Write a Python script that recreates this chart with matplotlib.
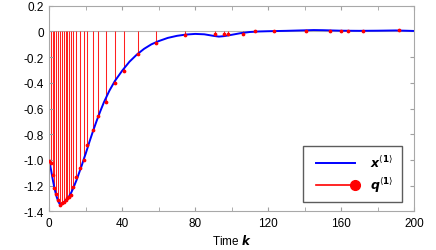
import matplotlib
matplotlib.use('Agg')
import matplotlib.pyplot as plt
import numpy as np
from matplotlib.lines import Line2D
from matplotlib.legend_handler import HandlerBase

plt.rcParams['font.family'] = ['Liberation Sans', 'DejaVu Sans']
plt.rcParams['mathtext.fontset'] = 'dejavusans'

# data: state trajectory x^(1)
k_curve = [0, 1, 2, 3, 4, 5, 6, 7, 8, 9, 10, 11, 12, 13, 14, 15, 16, 17, 18,
           19, 20, 21, 22, 24, 26, 28, 30, 33, 36, 40, 44, 48, 52, 56, 60, 65,
           70, 75, 80, 85, 90, 93, 96, 100, 105, 110, 115, 120, 130, 140, 145,
           150, 160, 170, 180, 190, 200]
x_curve = [-1.00, -1.08, -1.16, -1.23, -1.285, -1.325, -1.35, -1.345, -1.33,
           -1.315, -1.30, -1.28, -1.255, -1.225, -1.19, -1.155, -1.115, -1.075,
           -1.035, -0.99, -0.95, -0.905, -0.86, -0.775, -0.695, -0.62, -0.55,
           -0.46, -0.385, -0.305, -0.235, -0.18, -0.135, -0.10, -0.075, -0.05,
           -0.034, -0.024, -0.019, -0.022, -0.034, -0.04, -0.036, -0.026,
           -0.013, -0.004, 0.0, 0.002, 0.005, 0.009, 0.011, 0.010, 0.006,
           0.005, 0.006, 0.008, 0.004]

# data: quantized/event samples q^(1)
k_q = [0, 0.9, 1.8, 2.7, 3.8, 4.8, 6.0, 7.1, 8.0, 9.0, 9.9, 10.8, 11.9, 13.0,
       14.8, 16.8, 18.9, 20.7, 24.0, 26.9, 30.9, 36.0, 41.0, 48.9, 58.8, 74.2,
       91.0, 95.9, 97.9, 106.0, 112.9, 123.0, 140.8, 154.0, 160.0, 163.9,
       171.9, 191.8]
q_val = [-1.005, -1.02, -1.12, -1.22, -1.265, -1.31, -1.35, -1.335, -1.325,
         -1.315, -1.30, -1.29, -1.275, -1.21, -1.135, -1.065, -0.998, -0.88,
         -0.767, -0.656, -0.547, -0.40, -0.306, -0.176, -0.093, -0.026,
         -0.018, -0.018, -0.018, -0.016, 0.003, 0.003, 0.003, 0.003, 0.003,
         0.003, 0.003, 0.015]

LEAD = 3.6  # empty space (pt) before each legend handle


class LineHandler(HandlerBase):
    def __init__(self, color, dot=False):
        super().__init__()
        self.color = color
        self.dot = dot

    def create_artists(self, legend, orig, xd, yd, w, h, fs, trans):
        y = h / 2 - yd
        x0, x1 = -xd + LEAD, -xd + w
        arts = [Line2D([x0, x1], [y, y], color=self.color,
                       lw=1.4 if not self.dot else 1.2)]
        if self.dot:
            arts.append(Line2D([x1], [y], marker='o', color=self.color,
                               ms=7, ls='none'))
        for a in arts:
            a.set_transform(trans)
        return arts


fig = plt.figure(figsize=(4.36, 2.51), dpi=100)
ax = fig.add_axes([0.113, 0.154, 0.8365, 0.819])

ax.axhline(0, color='#b0b0b0', lw=0.8, zorder=0)
ax.vlines(k_q, 0, q_val, color='#ff2020', lw=0.75, zorder=1)
ax.plot(k_q, q_val, 'o', color='red', ms=1.7, zorder=3)
blue, = ax.plot(k_curve, x_curve, color='blue', lw=1.4, zorder=2)
stem_proxy = Line2D([], [], color='red')

ax.set_xlim(0, 200)
ax.set_ylim(-1.4, 0.2)
ax.set_xticks(np.arange(0, 201, 40))
ax.set_xticks(np.arange(0, 201, 20), minor=True)
ax.set_yticks(np.arange(-1.4, 0.21, 0.2))
ax.set_yticklabels(['-1.4', '-1.2', '-1.0', '-0.8', '-0.6', '-0.4', '-0.2',
                    '0', '0.2'])
ax.tick_params(which='both', direction='in', top=True, right=True,
               color='#a0a0a0', labelsize=8.5, length=3, pad=4)
ax.tick_params(which='minor', length=3)
for s in ax.spines.values():
    s.set_color('#a8a8a8')
    s.set_linewidth(0.8)

ax.set_xlabel(r'Time $\mathbfit{k}$', fontsize=8.5, labelpad=3)

leg = ax.legend([blue, stem_proxy],
                [r'$\mathbfit{x}^{\langle\mathbf{1}\rangle}$',
                 r'$\mathbfit{q}^{\langle\mathbf{1}\rangle}$'],
                handler_map={blue: LineHandler('blue'),
                             stem_proxy: LineHandler('red', dot=True)},
                loc='lower right', bbox_to_anchor=(0.966, 0.045),
                borderaxespad=0, fontsize=9, frameon=True, fancybox=False,
                handlelength=3.5, handletextpad=1.2, borderpad=0.65,
                labelspacing=0.4)
leg.get_frame().set_edgecolor('#333333')
leg.get_frame().set_linewidth(1.0)

fig.savefig('out.png', dpi=100)
